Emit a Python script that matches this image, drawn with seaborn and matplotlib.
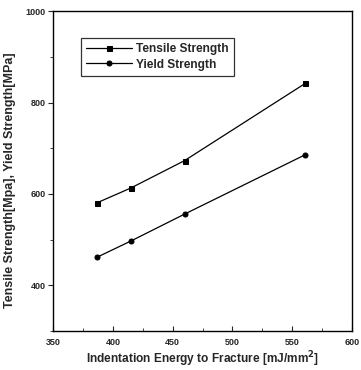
import matplotlib
matplotlib.use("Agg")
import matplotlib.pyplot as plt
import seaborn as sns
import pandas as pd
from matplotlib.ticker import MultipleLocator

energy = [387, 415, 460, 561]
tensile = [581, 613, 673, 842]
yield_strength = [462, 497, 556, 686]
series_names = ["Tensile Strength", "Yield Strength"]

df = pd.DataFrame({
    "energy": energy * 2,
    "strength": tensile + yield_strength,
    "series": [series_names[0]] * len(energy) + [series_names[1]] * len(energy),
})

sns.set_theme(style="ticks")
plt.rcParams["font.family"] = ["Liberation Sans", "DejaVu Sans"]

fig = plt.figure(figsize=(3.61, 3.70), dpi=100)
ax = fig.add_axes([0.147, 0.105, 0.828, 0.865])

sns.lineplot(
    data=df, x="energy", y="strength", hue="series", style="series",
    markers={series_names[0]: "s", series_names[1]: "o"}, dashes=False,
    palette=["black", "black"], linewidth=0.9, markersize=3.6,
    markeredgecolor="black", ax=ax,
)

ax.set_xlim(350, 600)
ax.set_ylim(300, 1000)
ax.xaxis.set_major_locator(MultipleLocator(50))
ax.xaxis.set_minor_locator(MultipleLocator(25))
ax.yaxis.set_major_locator(MultipleLocator(200))
ax.yaxis.set_minor_locator(MultipleLocator(100))
ax.set_yticks([400, 600, 800, 1000])
ax.tick_params(axis="x", which="major", direction="in", length=3.5, width=0.8, labelsize=6.5, pad=5)
ax.tick_params(axis="x", which="minor", direction="in", length=2, width=0.6)
ax.tick_params(axis="y", which="major", direction="out", length=3.5, width=0.8, labelsize=6.5, pad=2)
ax.tick_params(axis="y", which="minor", direction="out", length=2, width=0.6)
for lbl in ax.get_xticklabels() + ax.get_yticklabels():
    lbl.set_fontweight("bold")

for s in ax.spines.values():
    s.set_visible(True)
    s.set_linewidth(1.0)
    s.set_color("black")

ax.set_xlabel("Indentation Energy to Fracture [mJ/mm$^\\mathbf{2}$]", fontsize=8.6,
              fontweight="bold", labelpad=2)
ax.set_ylabel("Tensile Strength[Mpa], Yield Strength[MPa]", fontsize=9,
              fontweight="bold")
ax.yaxis.set_label_coords(-0.125, 0.472)

leg = ax.legend(
    title=None, loc="upper left", bbox_to_anchor=(0.073, 0.936),
    prop={"size": 8.6, "weight": "bold"}, frameon=True, fancybox=False,
    edgecolor="black", handlelength=3.8, handletextpad=0.4,
    borderpad=0.45, labelspacing=0.3, markerscale=1.0,
)
leg.get_frame().set_linewidth(0.9)

fig.savefig("out.png", dpi=100)
